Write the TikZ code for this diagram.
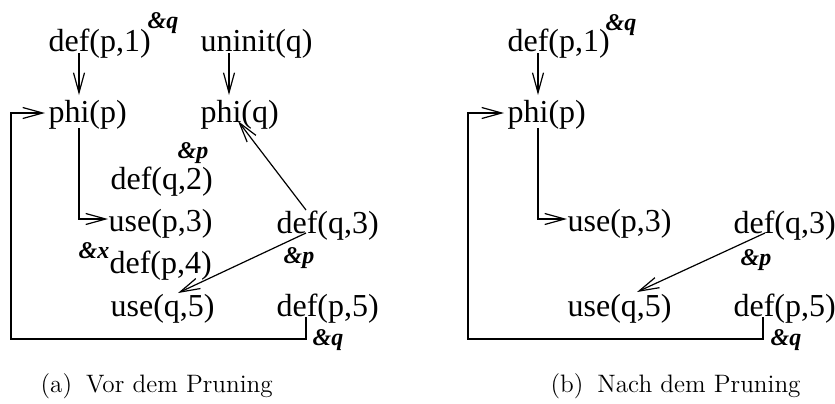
\documentclass[tikz,border=0pt]{standalone}
\usepackage{fontspec}
\newfontfamily\tms{Liberation Serif}
\usetikzlibrary{arrows.meta,calc}

\begin{document}
\begin{tikzpicture}[x=0.5pt,y=-0.5pt,line width=0.6pt,
  >={Straight Barb[length=10pt,width=5.5pt]},
  lbl/.style={anchor=base west,inner sep=0pt,font=\tms\fontsize{16}{18}\selectfont},
  tag/.style={anchor=base west,inner sep=0pt,font=\tms\fontsize{12}{14}\selectfont\bfseries\itshape},
  capt/.style={anchor=base west,inner sep=0pt,font=\fontsize{12.6}{15}\selectfont}]
\useasboundingbox (0,0) rectangle (835,403);
% (a) vor dem Pruning
\node[lbl] (dpa) at (48,51) {def(p,1)};
\node[tag] (qa) at (147,28) {\&q};
\node[lbl] (un) at (200,51) {uninit(q)};
\node[lbl] (ppa) at (48,122) {phi(p)};
\node[lbl] (pq) at (200,122) {phi(q)};
\node[tag] (pa) at (177,158) {\&p};
\node[lbl] (dq2) at (110,189) {def(q,2)};
\node[lbl] (upa) at (108,231) {use(p,3)};
\node[lbl] (dqa) at (276,233) {def(q,3)};
\node[tag] (xa) at (78,258) {\&x};
\node[tag] (pb) at (283,263) {\&p};
\node[lbl] (dp4) at (109,273) {def(p,4)};
\node[lbl] (uqa) at (110,316) {use(q,5)};
\node[lbl] (dpc) at (276,316) {def(p,5)};
\node[tag] (qb) at (312,345) {\&q};
\node[capt] (capa) at (40,392) {(a)\hspace{0.55em}Vor dem Pruning};
\coordinate (la) at (11,339);
\draw[->] ($(dpa.base west)+(31,2)$) -- ($(ppa.base west)+(31,-27)$);
\draw[->] ($(un.base west)+(29,2)$) -- ($(pq.base west)+(29,-27)$);
\draw[->] ($(ppa.base west)+(31,6)$) |- ($(upa.base west)+(0,-12)$);
\draw[->] ($(dqa.base west)+(30,-23)$) -- ($(pq.base west)+(38,-1)$);
\draw[->] ($(dqa.base west)+(30,0)$) -- ($(uqa.base west)+(68,-23)$);
\draw[->] ($(dpc.base west)+(30,1)$) |- (la) |- ($(ppa.base west)+(-3,-9)$);
% (b) nach dem Pruning
\node[lbl] (dpb) at (507,51) {def(p,1)};
\node[tag] (qc) at (605,30) {\&q};
\node[lbl] (ppb) at (507,122) {phi(p)};
\node[lbl] (upb) at (567,231) {use(p,3)};
\node[lbl] (dqb) at (733,233) {def(q,3)};
\node[tag] (pc) at (740,265) {\&p};
\node[lbl] (uqb) at (567,316) {use(q,5)};
\node[lbl] (dpd) at (733,316) {def(p,5)};
\node[tag] (qd) at (770,345) {\&q};
\node[capt] (capb) at (550,392) {(b)\hspace{0.55em}Nach dem Pruning};
\coordinate (lb) at (468,339);
\draw[->] ($(dpb.base west)+(31,2)$) -- ($(ppb.base west)+(31,-27)$);
\draw[->] ($(ppb.base west)+(31,6)$) |- ($(upb.base west)+(0,-12)$);
\draw[->] ($(dqb.base west)+(32,0)$) -- ($(uqb.base west)+(70,-24)$);
\draw[->] ($(dpd.base west)+(30,1)$) |- (lb) |- ($(ppb.base west)+(-3,-9)$);
\end{tikzpicture}
\end{document}
